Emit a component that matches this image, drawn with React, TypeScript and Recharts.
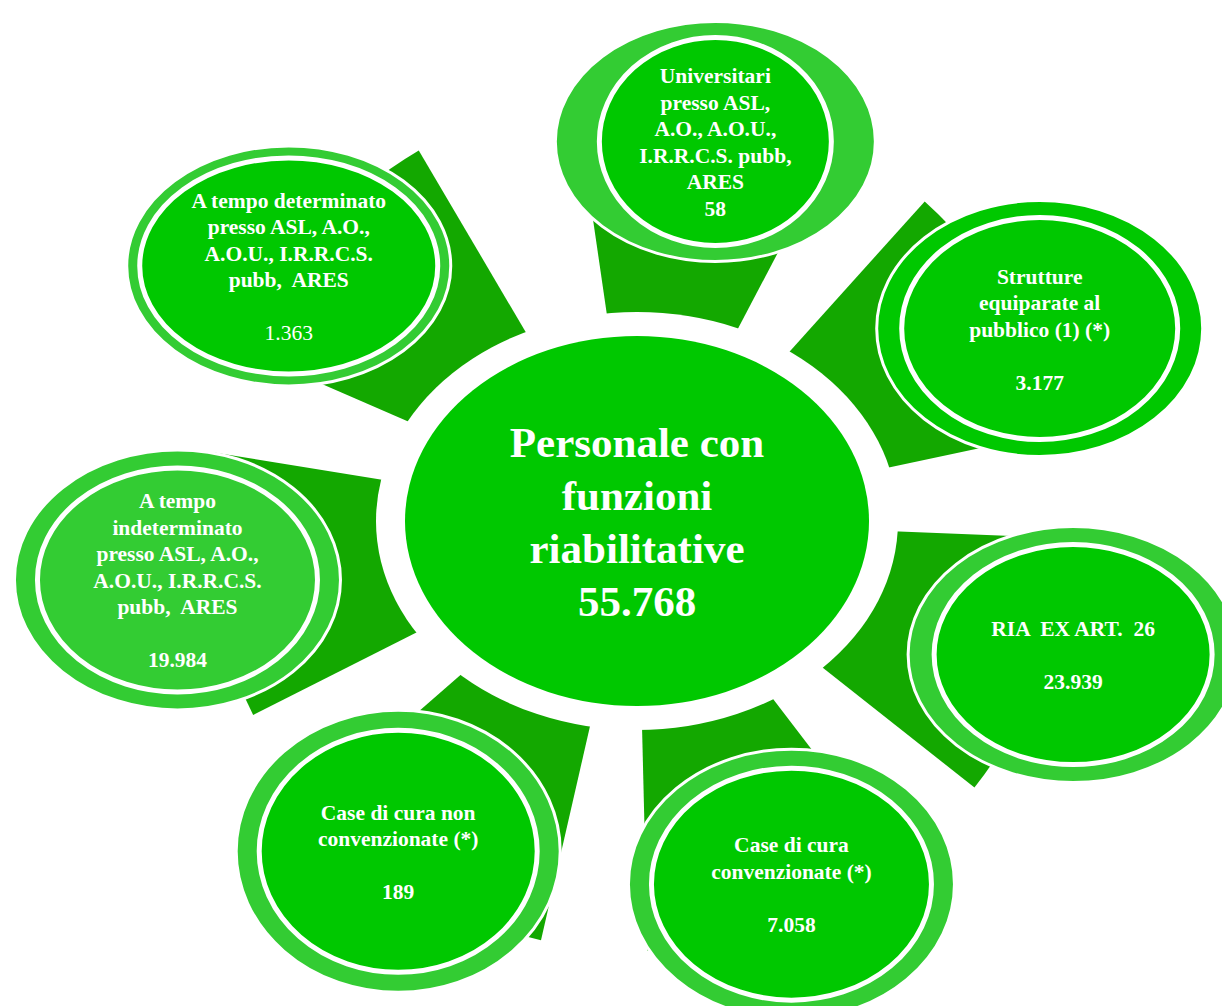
import { PieChart, Pie } from "recharts";

// categories, clockwise from the top
const categoryLines: string[][] = [
  ["Universitari", "presso ASL,", "A.O., A.O.U.,", "I.R.R.C.S. pubb,", "ARES"],
  ["Strutture", "equiparate al", "pubblico (1) (*)"],
  ["RIA  EX ART.  26"],
  ["Case di cura", "convenzionate (*)"],
  ["Case di cura non", "convenzionate (*)"],
  ["A tempo", "indeterminato", "presso ASL, A.O.,", "A.O.U., I.R.R.C.S.", "pubb,  ARES"],
  ["A tempo determinato", "presso ASL, A.O.,", "A.O.U., I.R.R.C.S.", "pubb,  ARES"],
];
const categoryValues = [58, 3177, 23939, 7058, 189, 19984, 1363];

const titleLines = ["Personale con", "funzioni", "riabilitative"];
const titleValue = 55768;

// colours
const CONNECTOR = "#13a800";
const BRIGHT = "#00c800";
const LIGHT = "#33cc33";
const FONT = "'Liberation Serif', 'Times New Roman', serif";

// layout
const CX = 637;
const CY = 521;
const ORBIT_X = 465;
const ORBIT_Y = 385;
const STEP = 50.3;
const FIRST_MID = 80.3;
const WEDGE = 36;
const LINE = 26.5;

// per-bubble look: outer rx, outer ry, inner rx, inner ry
const bubbleSizes = [
  [160, 120, 116, 104],
  [163, 128, 138, 111],
  [165, 128, 139, 110],
  [163, 135, 140, 116],
  [162, 141, 139, 121],
  [163, 130, 140, 112],
  [162, 120, 149, 108],
];
const ringFills = [LIGHT, BRIGHT, LIGHT, LIGHT, LIGHT, LIGHT, LIGHT];
const coreFills = [BRIGHT, BRIGHT, BRIGHT, BRIGHT, BRIGHT, LIGHT, BRIGHT];
const blankBeforeValue = [0, 1, 1, 1, 1, 1, 1];
const boldValue = [true, true, true, true, true, true, false];

const fmt = (n: number) => String(n).replace(/\B(?=(\d{3})+(?!\d))/g, ".");

const nodes = categoryLines.map((lines, i) => ({
  name: lines.join(" "),
  value: categoryValues[i],
  slot: 1,
}));
const centre = [{ name: titleLines.join(" "), value: titleValue }];

const startAngle = FIRST_MID + WEDGE / 2;
const wedgeSpan = nodes.length * WEDGE + (nodes.length - 1) * (STEP - WEDGE);
const bubbleStart = FIRST_MID + STEP / 2;

const renderCentre = () => {
  const lines = [...titleLines, fmt(titleValue)];
  const first = CY + 15 - ((lines.length - 1) * 53) / 2;
  return (
    <g key="centre">
      <ellipse cx={CX} cy={CY} rx={261} ry={209} fill="#ffffff" />
      <ellipse cx={CX} cy={CY} rx={232} ry={185} fill={BRIGHT} />
      <text textAnchor="middle" fill="#ffffff" fontSize={43} fontWeight="bold" fontFamily={FONT}>
        {lines.map((l, j) => (
          <tspan key={j} x={CX} y={first + j * 53}>
            {l}
          </tspan>
        ))}
      </text>
    </g>
  );
};

const renderBubble = (props: any) => {
  const i = props.index;
  const rad = (props.midAngle * Math.PI) / 180;
  const x = CX + ORBIT_X * Math.cos(rad);
  const y = CY - ORBIT_Y * Math.sin(rad);
  const [orx, ory, irx, iry] = bubbleSizes[i];
  const blanks = Array(blankBeforeValue[i]).fill("");
  const lines = [...categoryLines[i], ...blanks, fmt(categoryValues[i])];
  const first = y + 8 - ((lines.length - 1) * LINE) / 2;
  return (
    <g key={`bubble-${i}`}>
      <ellipse cx={x} cy={y} rx={orx} ry={ory} fill={ringFills[i]} stroke="#ffffff" strokeWidth={3} />
      <ellipse cx={x} cy={y} rx={irx} ry={iry} fill={coreFills[i]} stroke="#ffffff" strokeWidth={5} />
      <text
        textAnchor="middle"
        fill="#ffffff"
        fontSize={21.5}
        fontWeight="bold"
        fontFamily={FONT}
        style={{ whiteSpace: "pre" }}
      >
        {lines.map((l, j) => (
          <tspan
            key={j}
            x={x}
            y={first + j * LINE}
            fontWeight={j === lines.length - 1 && !boldValue[i] ? "normal" : "bold"}
          >
            {l}
          </tspan>
        ))}
      </text>
    </g>
  );
};

export default function App() {
  return (
    <div style={{ position: "absolute", left: 0, top: 0, width: 1222, height: 1006, background: "#ffffff" }}>
      <PieChart width={1222} height={1006} margin={{ top: 0, right: 0, bottom: 0, left: 0 }}>
        {/* connectors */}
        <Pie
          data={nodes}
          dataKey="slot"
          cx={CX}
          cy={CY}
          innerRadius={0}
          outerRadius={430}
          startAngle={startAngle}
          endAngle={startAngle - wedgeSpan}
          paddingAngle={STEP - WEDGE}
          fill={CONNECTOR}
          stroke="none"
          label={false}
          labelLine={false}
          isAnimationActive={false}
        />
        {/* centre total */}
        <Pie
          data={centre}
          dataKey="value"
          cx={CX}
          cy={CY}
          outerRadius={1}
          fill="none"
          stroke="none"
          label={renderCentre}
          labelLine={false}
          isAnimationActive={false}
        />
        {/* category bubbles */}
        <Pie
          data={nodes}
          dataKey="slot"
          cx={CX}
          cy={CY}
          outerRadius={1}
          startAngle={bubbleStart}
          endAngle={bubbleStart - nodes.length * STEP}
          fill="none"
          stroke="none"
          label={renderBubble}
          labelLine={false}
          isAnimationActive={false}
        />
      </PieChart>
    </div>
  );
}
